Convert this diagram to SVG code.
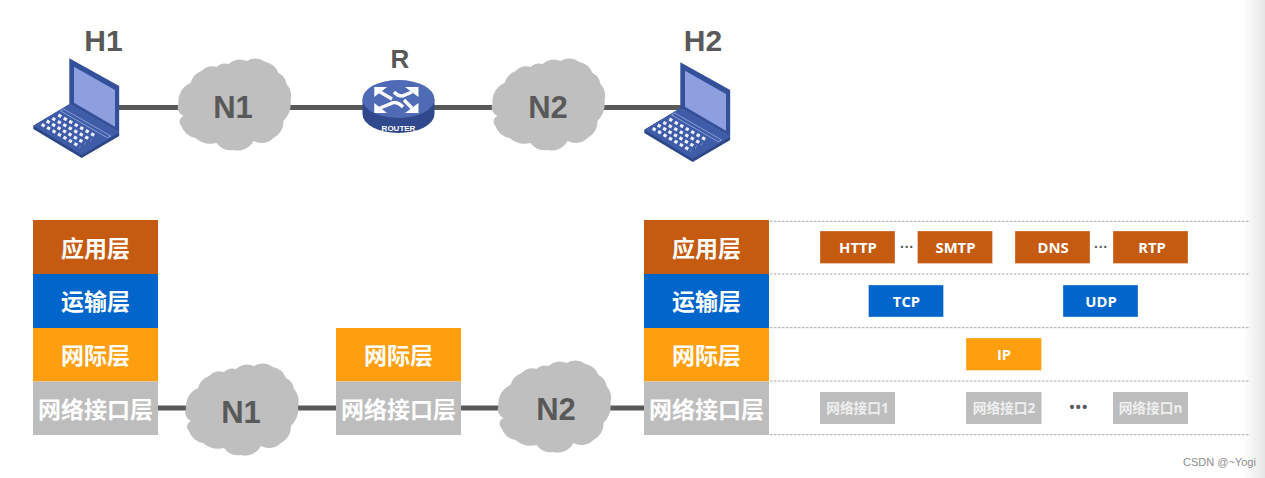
<svg xmlns="http://www.w3.org/2000/svg" xmlns:xlink="http://www.w3.org/1999/xlink" width="1265" height="478" viewBox="0 0 1265 478">
<style>
.cn{font-family:"Noto Sans CJK SC","Noto Sans",sans-serif;font-weight:700;fill:#fff;text-anchor:middle}
.ly{font-size:23px}
.sm{font-family:"Open Sans","Noto Sans CJK SC",sans-serif;font-weight:700;font-size:14.8px;fill:#fff;text-anchor:middle}
.if{font-family:"Open Sans","Noto Sans CJK SC",sans-serif;font-weight:700;font-size:13.7px;fill:#efefef;text-anchor:middle}
.lb{font-family:"Liberation Sans",Arial,sans-serif;font-weight:700;fill:#595959;text-anchor:middle}
.dot{font-family:"Liberation Sans",sans-serif;font-weight:700;fill:#595959;text-anchor:middle}
.app{fill:#C55A11}.tra{fill:#0066CC}.net{fill:#FF9E0E}.lnk{fill:#BDBDBD}
.sb{stroke:#fff;stroke-opacity:.45;stroke-width:.7}
.conn{stroke:#595959;stroke-width:5;fill:none}
.dash{stroke:#a6a6a6;stroke-width:1;stroke-dasharray:2.5 1.5;fill:none}
.cloud{fill:#BFBFBF}
.key{stroke:#EEF1FA;stroke-width:3.2;stroke-dasharray:3.4 2.9;fill:none}
.ra{stroke:#fff;stroke-width:3.4;fill:none}
</style>
<defs>
<linearGradient id="shade" x1="0" x2="1" y1="0" y2="0"><stop offset="0" stop-color="#fff"/><stop offset="1" stop-color="#e6e6e6"/></linearGradient>
<path id="cl" class="cloud" d="M-55,-2 A20,20 0 0 1 -43,-23 A18,18 0 0 1 -32,-35 A15,15 0 0 1 -17,-39 A12,12 0 0 1 -5,-42 A16,16 0 0 1 13,-45 A18,18 0 0 1 32,-44 A18,18 0 0 1 45,-33 A14,14 0 0 1 53,-22 A19,19 0 0 1 57,-5 A24,24 0 0 1 50,15 A19,19 0 0 1 40,32 A17,17 0 0 1 20,35 A18,18 0 0 1 0,44 A17,17 0 0 1 -17,37 A24,24 0 0 1 -38,32 A17,17 0 0 1 -52,20 A6,6 0 0 1 -50,10 A9,9 0 0 1 -55,-2Z"/>
<g id="laptop">
<path d="M33.3,125.7 L69.3,104.3 L119.2,132.7 L119.2,136 L81.7,158 L33.3,129Z" fill="#2C4687"/>
<path d="M33.3,125.7 L69.3,104.3 L119.2,132.7 L81.7,155Z" fill="#3F5CA8"/>
<path d="M69.3,58.3 L119.2,86 L119.2,132.7 L69.3,104.3Z" fill="#34509A"/>
<path d="M74,66.7 L115,90 L115,126.7 L74,102.7Z" fill="#8E9FE0"/>
<path d="M63.7,109 L110.7,136 L107.3,137.7 L60.7,111Z" fill="none" stroke="#A9B8E8" stroke-width=".7"/>
<path class="key" d="M58.3,115 L96.7,136.7 M52.3,118.3 L91,140 M46.7,121 L85,143.3 M41.7,124.3 L80,146.7"/>
</g>
</defs>

<rect id="edge-shade" x="1243" y="0" width="22" height="478" fill="url(#shade)"/>

<g id="connectors">
<path class="conn" d="M119,107.5 H180 M288,107.5 H363 M434,107.5 H494 M602,107.5 H682"/>
<path class="conn" d="M158,408 H188 M296,408 H336 M461,408 H500 M609,408 H644"/>
<path class="dash" d="M770,221.3 H1249 M770,274 H1249 M770,327.7 H1249 M770,381 H1249 M770,434.7 H1249"/>
</g>

<g id="H1"><use xlink:href="#laptop" href="#laptop"/><text class="lb" x="103.500" y="50.500" font-size="30">H1</text></g>
<g id="H2"><use xlink:href="#laptop" href="#laptop" x="611" y="4"/><text class="lb" x="703" y="50.500" font-size="30">H2</text></g>
<g id="N1-top"><use xlink:href="#cl" href="#cl" x="233.500" y="106"/><text class="lb" x="233" y="118" font-size="31">N1</text></g>
<g id="N2-top"><use xlink:href="#cl" href="#cl" x="547.500" y="106"/><text class="lb" x="548" y="118" font-size="31">N2</text></g>
<g id="R">
<text class="lb" x="400" y="68" font-size="26">R</text>
<path d="M362.500,99 V114 A36,19 0 0 0 434.500,114 V99Z" fill="#30488C"/>
<ellipse cx="398.500" cy="99" rx="36" ry="19" fill="#4F6BB5"/>
<path class="ra" d="M380,92 L392,99 M380,108 L390,104 Q396,100 403,107 M412,92 L405,95 Q400,98 394,92 M412,108 L404,100"/>
<path fill="#fff" d="M374.300,87 H387 L374.300,97Z M374.300,113 H387 L374.300,103Z M418.500,87 H405 L418.500,97Z M418.500,113 H405 L418.500,103Z"/>
<text x="398.500" y="131" font-family="Liberation Sans,sans-serif" font-weight="700" font-size="8px" fill="#fff" text-anchor="middle">ROUTER</text>
</g>

<g id="stack-left">
<rect class="app" x="33" y="220" width="125" height="54"/><text class="cn ly" x="95.500" y="257">应用层</text>
<rect class="tra" x="33" y="274" width="125" height="54"/><text class="cn ly" x="95.500" y="310">运输层</text>
<rect class="net" x="33" y="328" width="125" height="53.500"/><text class="cn ly" x="95.500" y="364">网际层</text>
<rect class="lnk" x="33" y="381.500" width="125" height="53.500"/><text class="cn ly" x="95.500" y="418">网络接口层</text>
</g>
<g id="N1-bottom"><use xlink:href="#cl" href="#cl" x="241" y="411"/><text class="lb" x="241" y="423" font-size="31">N1</text></g>
<g id="stack-router">
<rect class="net" x="336" y="328" width="125" height="53.500"/><text class="cn ly" x="398.500" y="364">网际层</text>
<rect class="lnk" x="336" y="381.500" width="125" height="53.500"/><text class="cn ly" x="398.500" y="418">网络接口层</text>
</g>
<g id="N2-bottom"><use xlink:href="#cl" href="#cl" x="553.500" y="408"/><text class="lb" x="556" y="419.500" font-size="31">N2</text></g>
<g id="stack-right">
<rect class="app" x="644" y="220" width="125" height="54"/><text class="cn ly" x="706.500" y="257">应用层</text>
<rect class="tra" x="644" y="274" width="125" height="54"/><text class="cn ly" x="706.500" y="310">运输层</text>
<rect class="net" x="644" y="328" width="125" height="53.500"/><text class="cn ly" x="706.500" y="364">网际层</text>
<rect class="lnk" x="644" y="381.500" width="125" height="53.500"/><text class="cn ly" x="706.500" y="418">网络接口层</text>
</g>

<g id="proto-app">
<rect class="app sb" x="820" y="231" width="75" height="32.500"/><text class="sm" x="858" y="252.500">HTTP</text>
<text class="dot" x="907" y="252" font-size="14">···</text>
<rect class="app sb" x="917.500" y="231" width="75" height="32.500"/><text class="sm" x="955.500" y="252.500">SMTP</text>
<rect class="app sb" x="1015" y="231" width="75" height="32.500"/><text class="sm" x="1053" y="252.500">DNS</text>
<text class="dot" x="1101" y="252" font-size="14">···</text>
<rect class="app sb" x="1113" y="231" width="75" height="32.500"/><text class="sm" x="1152" y="252.500">RTP</text>
</g>
<g id="proto-tra">
<rect class="tra sb" x="868.500" y="285" width="75" height="32"/><text class="sm" x="906.500" y="306.500">TCP</text>
<rect class="tra sb" x="1063" y="285" width="75" height="32"/><text class="sm" x="1101" y="306.500">UDP</text>
</g>
<g id="proto-net">
<rect class="net sb" x="966" y="338" width="75.500" height="32.500"/><text class="sm" x="1004" y="359.500">IP</text>
</g>
<g id="proto-lnk">
<rect class="lnk" x="820" y="392" width="75" height="32"/><text class="if" x="857.500" y="413">网络接口1</text>
<rect class="lnk" x="966" y="392" width="75.500" height="32"/><text class="if" x="1004" y="413">网络接口2</text>
<text class="dot" x="1079" y="412" font-size="14" letter-spacing="1.500">•••</text>
<rect class="lnk" x="1113" y="392" width="75" height="32"/><text class="if" x="1150.500" y="413">网络接口n</text>
</g>
<text id="watermark" x="1183" y="466" font-family="Liberation Sans,sans-serif" font-size="11px" fill="#8c8c8c">CSDN @~Yogi</text>
</svg>
